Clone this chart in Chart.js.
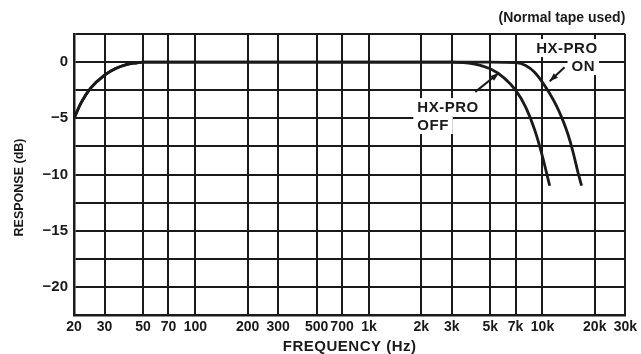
<!DOCTYPE html>
<html>
<head>
<meta charset="utf-8">
<script src="https://cdn.jsdelivr.net/npm/chart.js@4.4.1/dist/chart.umd.min.js"></script>
<style>
  html, body { margin: 0; padding: 0; background: #fff; }
  #wrap { width: 641px; height: 354px; position: relative; }
</style>
</head>
<body>
<div id="wrap"><canvas id="responseChart"></canvas></div>
<script>
// tick values and labels
const xTicks = [20, 30, 50, 70, 100, 200, 300, 500, 700, 1000, 2000, 3000, 5000, 7000, 10000, 20000, 30000];
const xTickLabels = ["20", "30", "50", "70", "100", "200", "300", "500", "700", "1k", "2k", "3k", "5k", "7k", "10k", "20k", "30k"];
const yLabelled = [0, -5, -10, -15, -20];

// HX-PRO off
const offFreq = [20, 22, 25, 30, 35, 40, 45, 50, 100, 1000, 3000, 4000, 5000, 6000, 7000, 8000, 9000, 10000, 11000];
const offResp = [-5, -3.6, -2.3, -1.15, -0.55, -0.22, -0.08, 0, 0, 0, 0, -0.15, -0.6, -1.4, -2.5, -4.0, -6.0, -8.4, -11];

// HX-PRO on
const onFreq = [20, 22, 25, 30, 35, 40, 45, 50, 100, 1000, 5000, 7000, 8000, 9000, 10000, 11000, 12000, 13000, 14000, 15000, 16000, 16800];
const onResp = [-5, -3.6, -2.3, -1.15, -0.55, -0.22, -0.08, 0, 0, 0, 0, -0.05, -0.3, -0.9, -1.8, -2.8, -3.85, -5.05, -6.4, -8.0, -9.8, -11];

const ink = "#1a1a1a";
const font = "'Liberation Sans', Arial, sans-serif";

// callout texts, anchored in data coordinates [freq, dB]
const notes = [
    { text: "HX-PRO", at: [1900, -4.0] },
    { text: "OFF", at: [1900, -5.6] },
    { text: "HX-PRO", at: [9200, 1.25] },
    { text: "ON", at: [14700, -0.35] }
];
const arrows = [
    { from: [4100, -2.65], to: [5600, -0.97] },
    { from: [13400, -0.45], to: [11000, -1.7] }
];

function toPts(xs, ys) {
    return xs.map((x, i) => ({ x: x, y: ys[i] }));
}

function noteFont(ctx) {
    ctx.font = "bold 15px " + font;
    ctx.letterSpacing = "0.5px";
    ctx.textBaseline = "middle";
    ctx.textAlign = "left";
}

const decorations = {
    id: "decorations",
    beforeDatasetsDraw(chart) {
        // white patches behind the callouts, over the grid
        const { ctx, scales } = chart;
        ctx.save();
        noteFont(ctx);
        ctx.fillStyle = "#fff";
        notes.forEach(n => {
            const x = scales.x.getPixelForValue(n.at[0]);
            const y = scales.y.getPixelForValue(n.at[1]);
            const w = ctx.measureText(n.text).width;
            ctx.fillRect(x - 4, y - 9, w + 8, 18);
        });
        ctx.restore();
    },
    afterDraw(chart) {
        const { ctx, chartArea, scales } = chart;
        const xs = scales.x, ys = scales.y;
        ctx.save();
        ctx.fillStyle = ink;
        ctx.strokeStyle = ink;

        noteFont(ctx);
        notes.forEach(n => {
            ctx.fillText(n.text, xs.getPixelForValue(n.at[0]), ys.getPixelForValue(n.at[1]) + 1);
        });

        ctx.lineWidth = 2;
        arrows.forEach(a => {
            const x1 = xs.getPixelForValue(a.from[0]), y1 = ys.getPixelForValue(a.from[1]);
            const x2 = xs.getPixelForValue(a.to[0]), y2 = ys.getPixelForValue(a.to[1]);
            ctx.beginPath();
            ctx.moveTo(x1, y1);
            ctx.lineTo(x2, y2);
            ctx.stroke();
            const ang = Math.atan2(y2 - y1, x2 - x1);
            ctx.beginPath();
            ctx.moveTo(x2, y2);
            ctx.lineTo(x2 - 9 * Math.cos(ang - 0.35), y2 - 9 * Math.sin(ang - 0.35));
            ctx.lineTo(x2 - 9 * Math.cos(ang + 0.35), y2 - 9 * Math.sin(ang + 0.35));
            ctx.closePath();
            ctx.fill();
        });

        // note above the plot
        ctx.font = "bold 14px " + font;
        ctx.letterSpacing = "0px";
        ctx.textAlign = "right";
        ctx.fillText("(Normal tape used)", chartArea.right, chartArea.top - 16);

        // axis titles
        ctx.textAlign = "center";
        ctx.font = "bold 15px " + font;
        ctx.letterSpacing = "0.5px";
        ctx.fillText("FREQUENCY (Hz)", (chartArea.left + chartArea.right) / 2, chartArea.bottom + 32);
        ctx.font = "bold 12.5px " + font;
        ctx.letterSpacing = "0px";
        ctx.translate(20, (chartArea.top + chartArea.bottom) / 2 + 13);
        ctx.rotate(-Math.PI / 2);
        ctx.fillText("RESPONSE (dB)", 0, 0);
        ctx.restore();
    }
};

new Chart(document.getElementById("responseChart"), {
    type: "line",
    data: {
        datasets: [
            {
                label: "HX-PRO OFF",
                data: toPts(offFreq, offResp),
                borderColor: ink,
                borderWidth: 2.8,
                pointRadius: 0,
                cubicInterpolationMode: "monotone"
            },
            {
                label: "HX-PRO ON",
                data: toPts(onFreq, onResp),
                borderColor: ink,
                borderWidth: 2.8,
                pointRadius: 0,
                cubicInterpolationMode: "monotone"
            }
        ]
    },
    options: {
        responsive: true,
        maintainAspectRatio: false,
        animation: false,
        layout: {
            padding: { left: 0, right: 14, top: 34, bottom: 0 }
        },
        plugins: {
            legend: { display: false },
            tooltip: { enabled: false }
        },
        scales: {
            x: {
                type: "logarithmic",
                min: 20,
                max: 30000,
                afterBuildTicks: axis => {
                    axis.ticks = xTicks.map(v => ({ value: v }));
                },
                afterFit: axis => {
                    axis.height = 39;
                },
                ticks: {
                    autoSkip: false,
                    maxRotation: 0,
                    padding: 4,
                    color: ink,
                    font: { family: font, size: 14, weight: "bold" },
                    callback: function (value) {
                        const i = xTicks.indexOf(value);
                        return i >= 0 ? xTickLabels[i] : "";
                    }
                },
                grid: {
                    color: ink,
                    lineWidth: 2,
                    drawTicks: false
                },
                border: { color: ink, width: 2.5 }
            },
            y: {
                min: -22.5,
                max: 2.5,
                afterFit: axis => {
                    axis.width = 74;
                },
                ticks: {
                    stepSize: 2.5,
                    padding: 6,
                    color: ink,
                    font: { family: font, size: 15, weight: "bold" },
                    callback: function (value) {
                        if (!yLabelled.includes(value)) return "";
                        return value < 0 ? "\u2212" + Math.abs(value) : String(value);
                    }
                },
                grid: {
                    color: ink,
                    lineWidth: 2,
                    drawTicks: false
                },
                border: { color: ink, width: 2.5 }
            }
        }
    },
    plugins: [decorations]
});
</script>
</body>
</html>
